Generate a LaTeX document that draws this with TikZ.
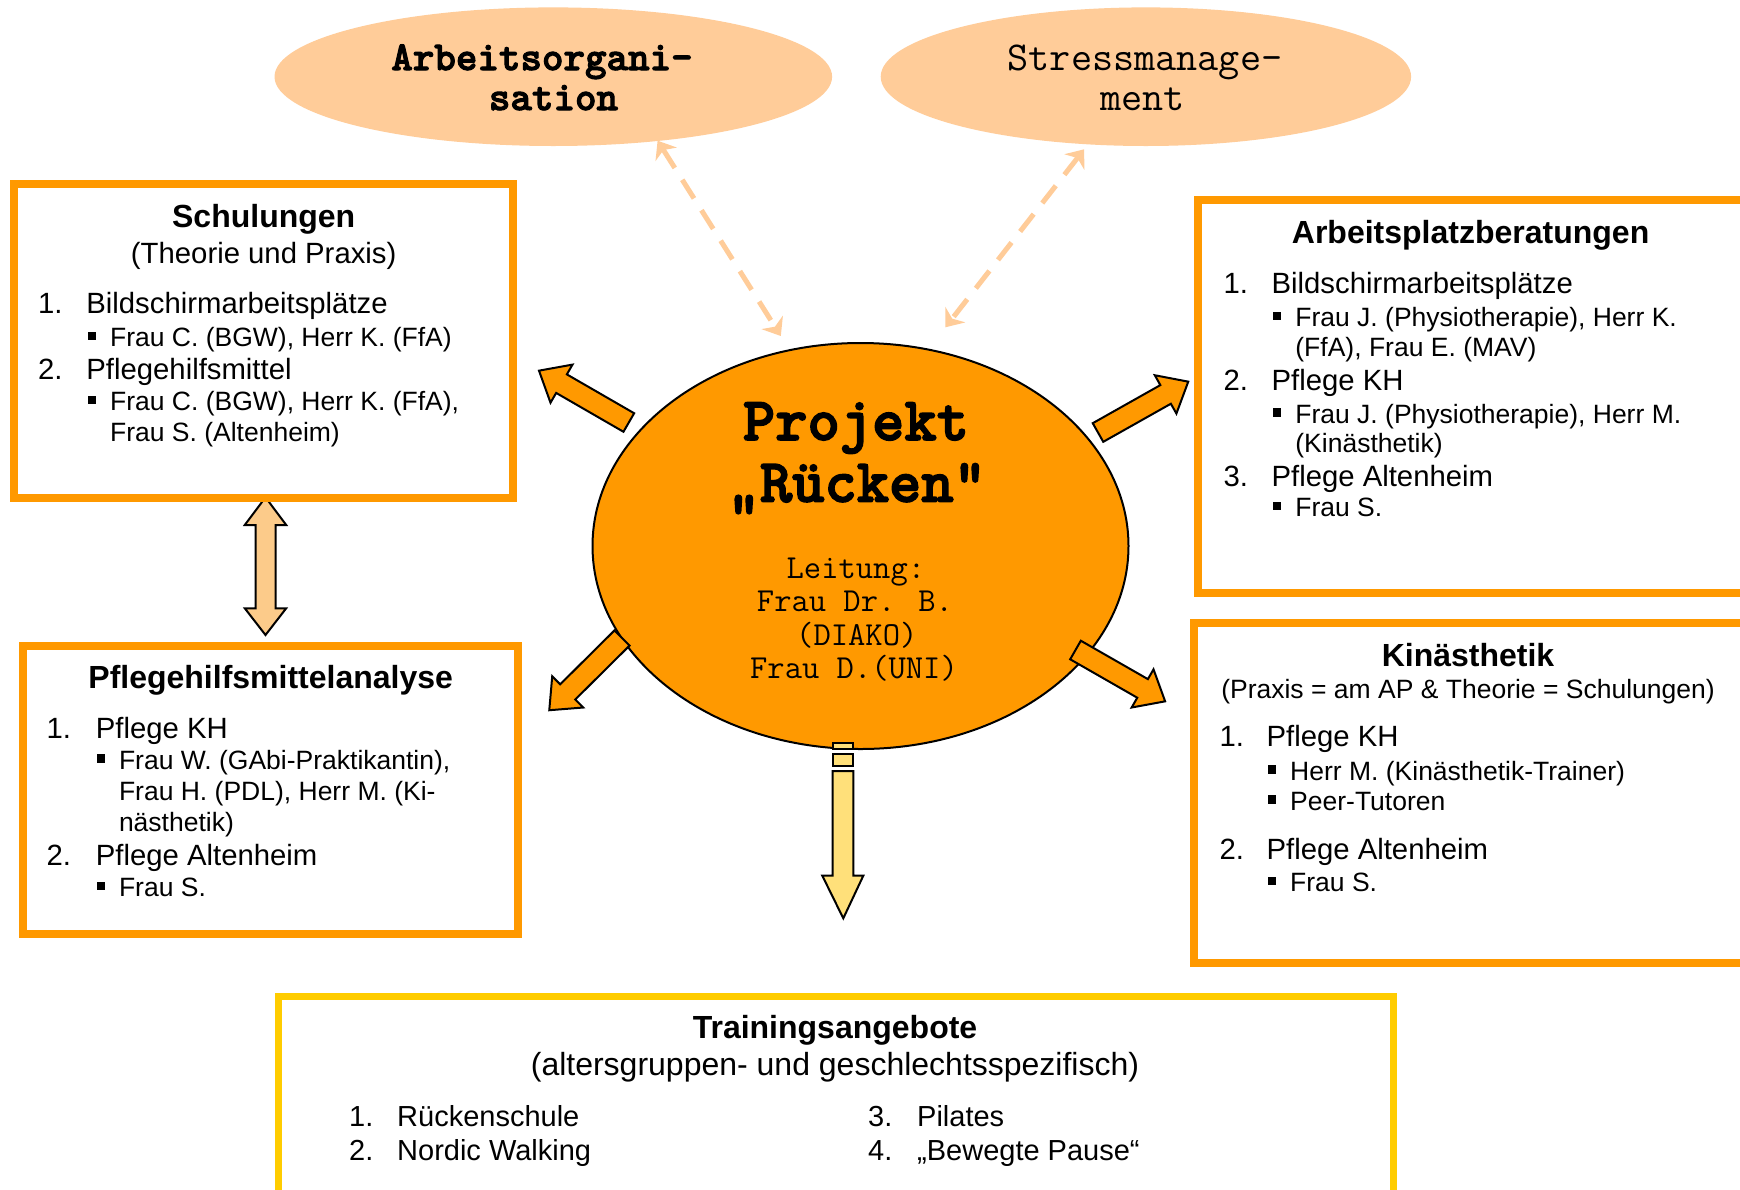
\documentclass[tikz,border=0pt]{standalone}
\usepackage{fontspec}
\setmainfont{Liberation Sans}
\newfontfamily\courb[FakeBold=2.5]{lmmonolt10-bold.otf}
\usetikzlibrary{shapes.geometric,arrows.meta}
\definecolor{orng}{HTML}{FF9900}
\definecolor{peach}{HTML}{FFCC99}
\definecolor{yel}{HTML}{FFCC00}
\definecolor{dblfill}{HTML}{FCCB8A}
\definecolor{strfill}{HTML}{FFE07A}
\newcommand{\bsq}{\makebox[22.5pt][l]{\rule[6.5pt]{8.5pt}{8.5pt}}}
\newcommand{\blockarrow}[8]{%
  \begin{scope}[shift={(#1,#2)},rotate=#3]
  \draw[#8] (0,-#5) -- (#4-#7,-#5) -- (#4-#7,-#6) -- (#4,0) -- (#4-#7,#6) -- (#4-#7,#5) -- (0,#5) -- cycle;
  \end{scope}}
\tikzset{
  box/.style={draw=orng, line width=8pt, rectangle, inner sep=0pt},
  topell/.style={ellipse, fill=peach, inner sep=0pt},
  hd/.style={anchor=base, inner sep=0pt, font=\fontsize{32}{38}\selectfont\bfseries},
  subt/.style={anchor=base, inner sep=0pt, font=\fontsize{29.3}{34}\selectfont},
  subs/.style={anchor=base, inner sep=0pt, font=\fontsize{26.5}{31}\selectfont},
  subl/.style={anchor=base, inner sep=0pt, font=\fontsize{32}{38}\selectfont},
  itm/.style={anchor=base west, inner sep=0pt, font=\fontsize{29.3}{34}\selectfont},
  itmt/.style={anchor=base west, inner sep=0pt, font=\fontsize{29}{34}\selectfont},
  bul/.style={anchor=base west, inner sep=0pt, font=\fontsize{26.5}{31}\selectfont},
  monoB/.style={anchor=base, inner sep=0pt, font=\courb\fontsize{41}{46}\selectfont},
  monoR/.style={anchor=base, inner sep=0pt, font=\ttfamily\fontsize{41}{46}\selectfont},
  monoBig/.style={anchor=base, inner sep=0pt, font=\courb\fontsize{61.5}{66}\selectfont},
  monoS/.style={anchor=base, inner sep=0pt, font=\ttfamily\fontsize{33.6}{37}\selectfont},
  dasharr/.style={draw=peach, line width=5pt, dash pattern=on 22pt off 14pt,
    {Stealth[length=16pt,width=25pt,inset=5pt]}-{Stealth[length=16pt,width=25pt,inset=5pt]}},
  orarr/.style={fill=orng, draw=black, line width=2pt, line join=miter},
  dblarr/.style={fill=dblfill, draw=black, line width=2pt, line join=miter},
  strarr/.style={fill=strfill, draw=black, line width=2pt, line join=miter}
}
\begin{document}
\begin{tikzpicture}[x=1pt,y=-1pt]
\useasboundingbox (0,0) rectangle (1740,1189);
\clip (0,0) rectangle (1740,1189);
\fill[white] (0,0) rectangle (1740,1189);

% top ellipses
\node[topell, minimum width=557.6pt, minimum height=138.6pt] (ao) at (553.3,76.7) {};
\node[topell, minimum width=530.4pt, minimum height=138.6pt] (sm) at (1145.9,76.7) {};
\node[monoB] (aot1) at (542,70) {Arbeitsorgani-};
\node[monoB] (aot2) at (553.5,110) {sation};
\node[monoR] (smt1) at (1145,70) {Stressmanage-};
\node[monoR] (smt2) at (1142.3,110) {ment};

% dashed double arrows
\coordinate (aoD) at (657.6,140.7);
\coordinate (prL) at (780.8,336);
\coordinate (smD) at (1084.2,149.3);
\coordinate (prR) at (945.4,327.3);
\draw[dasharr] (aoD) -- (prL);
\draw[dasharr] (smD) -- (prR);

% central ellipse
\node[ellipse, draw=black, line width=2pt, fill=orng, inner sep=0pt,
      minimum width=536pt, minimum height=406pt] (pr) at (860.5,546) {};
\node[monoBig] (prt1) at (856,440) {Projekt};
\node[monoBig] (prt2) at (856.8,501.7) {„Rücken“};
\node[monoS] (prl1) at (855.9,578.3) {Leitung:};
\node[monoS] (prl2) at (855,611.7) {Frau Dr. B.};
\node[monoS] (prl3) at (856.8,645) {(DIAKO)};
\node[monoS] (prl4) at (854,678.3) {Frau D.(UNI)};

% block arrows
\blockarrow{628.8}{422.5}{150}{103.7}{10.7}{22}{26}{orarr}
\blockarrow{1098}{432.5}{29.4}{103.6}{10.7}{22}{26}{orarr}
\blockarrow{622}{638}{-135.2}{102.5}{10.7}{22}{26}{orarr}
\blockarrow{1075.5}{650}{-29.8}{103.3}{10.7}{22}{26}{orarr}

% striped down arrow
\draw[strarr] (832.7,743.3) rectangle (853.3,749);
\draw[strarr] (832.7,754.3) rectangle (853.3,766);
\draw[strarr] (832.7,771) -- (853.3,771) -- (853.3,875.7) -- (863.3,875.7) -- (843.3,918.3)
  -- (822.3,875.7) -- (832.7,875.7) -- cycle;

% double arrow between left boxes
\draw[dblarr] (265.5,497.3) -- (286.2,525) -- (275.5,525) -- (275.5,608.3) -- (286.2,608.3)
  -- (265.5,635) -- (244.8,608.3) -- (255.5,608.3) -- (255.5,525) -- (244.8,525) -- cycle;

% Schulungen
\node[box, minimum width=499pt, minimum height=313.8pt] (schul) at (263.5,340.6) {};
\node[hd] (sc0) at (263.7,227.3) {Schulungen};
\node[subt] (sc1) at (263.7,263.3) {(Theorie und Praxis)};
\node[itm] (sc2n) at (37.9,313.3) {1.};
\node[itm] (sc2) at (86.2,313.3) {Bildschirmarbeitsplätze};
\node[bul] (sc3) at (87.4,346.5) {\bsq Frau C. (BGW), Herr K. (FfA)};
\node[itm] (sc4n) at (37.9,379) {2.};
\node[itm] (sc4) at (86.2,379) {Pflegehilfsmittel};
\node[bul] (sc5) at (87.4,410.7) {\bsq Frau C. (BGW), Herr K. (FfA),};
\node[bul] (sc6) at (109.9,441.7) {Frau S. (Altenheim)};

% Arbeitsplatzberatungen
\node[box, minimum width=551.8pt, minimum height=393pt] (apb) at (1474.1,396.5) {};
\node[hd] (ap0) at (1470.6,243.3) {Arbeitsplatzberatungen};
\node[itm] (ap1n) at (1223.3,293.3) {1.};
\node[itm] (ap1) at (1271.4,293.3) {Bildschirmarbeitsplätze};
\node[bul] (ap2) at (1272.7,326.7) {\bsq Frau J. (Physiotherapie), Herr K.};
\node[bul] (ap3) at (1295.2,356.7) {(FfA), Frau E. (MAV)};
\node[itm] (ap4n) at (1223.3,390) {2.};
\node[itm] (ap4) at (1271.4,390) {Pflege KH};
\node[bul] (ap5) at (1272.7,423.3) {\bsq Frau J. (Physiotherapie), Herr M.};
\node[bul] (ap6) at (1295.2,452.5) {(Kinästhetik)};
\node[itm] (ap7n) at (1223.3,486.7) {3.};
\node[itm] (ap7) at (1271.4,486.7) {Pflege Altenheim};
\node[bul] (ap8) at (1272.7,516.7) {\bsq Frau S.};

% Pflegehilfsmittelanalyse
\node[box, minimum width=494.8pt, minimum height=288.6pt] (pha) at (270.3,790) {};
\node[hd] (ph0) at (270.7,688.3) {Pflegehilfsmittelanalyse};
\node[itm] (ph1n) at (46.5,738.3) {1.};
\node[itm] (ph1) at (95.7,738.3) {Pflege KH};
\node[bul] (ph2) at (96.3,769.3) {\bsq Frau W. (GAbi-Praktikantin),};
\node[bul] (ph3) at (118.8,800) {Frau H. (PDL), Herr M. (Ki-};
\node[bul] (ph4) at (118.8,831.7) {nästhetik)};
\node[itm] (ph5n) at (46.5,865) {2.};
\node[itm] (ph5) at (95.7,865) {Pflege Altenheim};
\node[bul] (ph6) at (96.3,896.7) {\bsq Frau S.};

% Kinaesthetik
\node[box, minimum width=556pt, minimum height=340pt] (kin) at (1472,793.3) {};
\node[hd] (ki0) at (1468,666.7) {Kinästhetik};
\node[subs] (ki1) at (1468,698.3) {(Praxis = am AP \& Theorie = Schulungen)};
\node[itm] (ki2n) at (1219.3,746.7) {1.};
\node[itm] (ki2) at (1266.4,746.7) {Pflege KH};
\node[bul] (ki3) at (1267.5,780) {\bsq Herr M. (Kinästhetik-Trainer)};
\node[bul] (ki4) at (1267.5,810) {\bsq Peer-Tutoren};
\node[itm] (ki5n) at (1219.3,859.3) {2.};
\node[itm] (ki5) at (1266.4,859.3) {Pflege Altenheim};
\node[bul] (ki6) at (1267.5,891.7) {\bsq Frau S.};

% Trainingsangebote
\node[box, draw=yel, line width=7pt, minimum width=1115pt, minimum height=203.5pt] (tra) at (836,1098.25) {};
\node[hd] (tr0) at (835,1038.3) {Trainingsangebote};
\node[subl] (tr1) at (835,1075) {(altersgruppen- und geschlechtsspezifisch)};
\node[itmt] (tr2n) at (349,1126.7) {1.};
\node[itmt] (tr2) at (397,1126.7) {Rückenschule};
\node[itmt] (tr3n) at (349,1160) {2.};
\node[itmt] (tr3) at (397,1160) {Nordic Walking};
\node[itmt] (tr4n) at (868,1126.7) {3.};
\node[itmt] (tr4) at (917,1126.7) {Pilates};
\node[itmt] (tr5n) at (868,1160) {4.};
\node[itmt] (tr5) at (917,1160) {„Bewegte Pause“};
\end{tikzpicture}
\end{document}
